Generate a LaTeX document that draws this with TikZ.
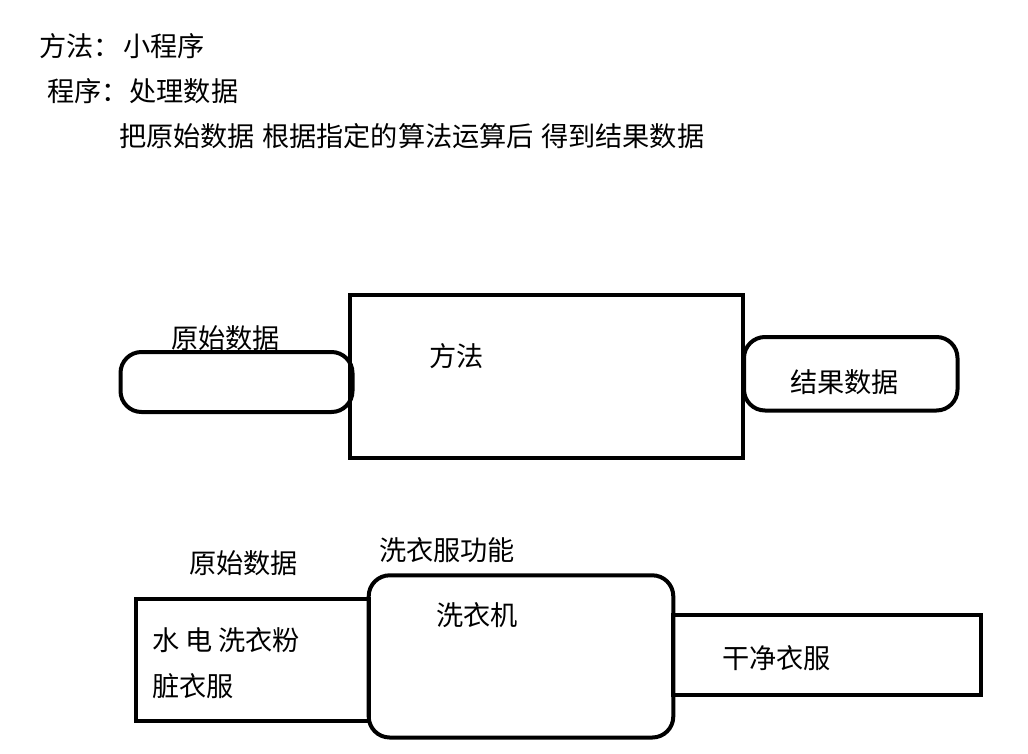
\documentclass[tikz,border=0pt]{standalone}
\usepackage{fontspec}
\setmainfont{Noto Sans CJK SC}
\begin{document}
\begin{tikzpicture}[x=1pt,y=-1pt,
  lbl/.style={anchor=west, inner sep=0pt, outer sep=0pt, font=\fontsize{27.2}{32}\selectfont},
  shp/.style={draw, line width=4pt, inner sep=0pt, outer sep=0pt, anchor=north west},
  rnd/.style={shp, rounded corners=21pt}]
\useasboundingbox (0,0) rectangle (1028,753);
\fill[white] (0,0) rectangle (1028,753);
% heading text
\node[lbl] (t1) at (39,46) {方法：\hspace{3pt}小程序};
\node[lbl] (t2) at (47,91) {程序：\hspace{1pt}处理数据};
\node[lbl] (t3) at (119,136) {把原始数据\hspace{1pt} 根据指定的算法运算后\hspace{1pt} 得到结果数据};
% upper diagram
\node[shp, minimum width=393.3pt, minimum height=163.3pt] (method) at (349.7,294.7) {};
\node[rnd, minimum width=232pt, minimum height=60pt] (raw1) at (120.5,352) {};
\node[rnd, minimum width=213.5pt, minimum height=73.5pt] (res1) at (744,337) {};
\node[lbl] (rawlbl1) at (171,338) {原始数据};
\node[lbl] (methodlbl) at (429,356) {方法};
\node[lbl] (reslbl) at (790,382) {结果数据};
% lower diagram
\node[shp, minimum width=233.2pt, minimum height=121.7pt] (raw2) at (135.5,598.8) {};
\node[shp, minimum width=307.2pt, minimum height=80pt] (clean) at (673.3,614.7) {};
\node[rnd, minimum width=304.6pt, minimum height=162.2pt] (washer) at (368.7,575.3) {};
\node[lbl] (rawlbl2) at (189,563) {原始数据};
\node[lbl] (func) at (379,550) {洗衣服功能};
\node[lbl] (washlbl) at (436,615) {洗衣机};
\node[lbl] (in1) at (152,640) {水 电 洗衣粉};
\node[lbl] (in2) at (152,686) {脏衣服};
\node[lbl] (cleanlbl) at (722,658) {干净衣服};
\end{tikzpicture}
\end{document}
